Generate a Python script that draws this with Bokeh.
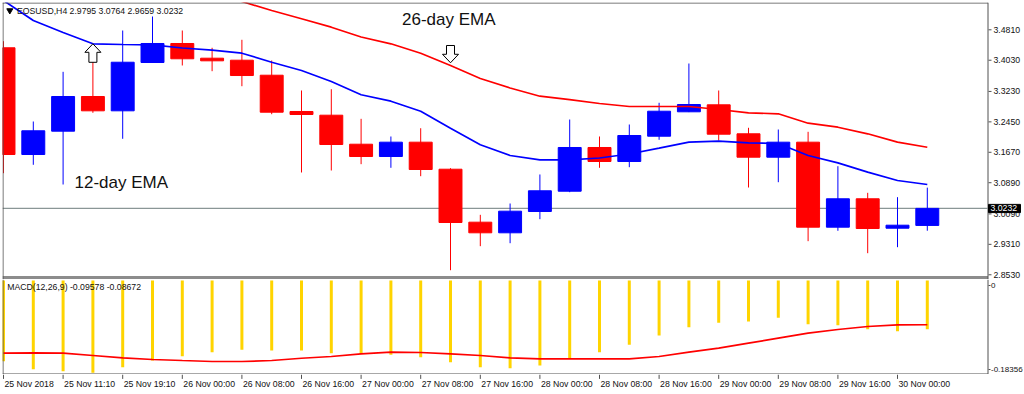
from bokeh.plotting import figure
from bokeh.layouts import column
from bokeh.models import Range1d
from bokeh.core.properties import value
from bokeh.embed import file_html
from bokeh.resources import INLINE

# ---------------- data ----------------
symbol_header = "EOSUSD,H4  2.9795 3.0764 2.9659 3.0232"
macd_header = "MACD(12,26,9) -0.09578 -0.08672"
last_price = 3.0232

opens = [3.4349, 3.1613, 3.2211, 3.3100, 3.2733, 3.3972, 3.4459, 3.4082, 3.4031, 3.3646,
         3.2716, 3.2621, 3.1877, 3.1562, 3.1929, 3.1236, 2.9878, 2.9606, 3.0152, 3.0672,
         3.1793, 3.1434, 3.2082, 3.2708, 3.2887, 3.2144, 3.1544, 3.1929, 2.9750, 3.0478,
         2.9724, 2.9795]
highs = [3.4518, 3.2459, 3.3733, 3.4279, 3.4792, 3.5151, 3.4792, 3.4349, 3.4554, 3.4023,
         3.3254, 3.3287, 3.2528, 3.2075, 3.2287, 3.1262, 3.0067, 3.0357, 3.1101, 3.2510,
         3.2075, 3.2382, 3.2939, 3.3946, 3.3254, 3.2298, 3.2254, 3.2195, 3.1313, 3.0631,
         3.0519, 3.0764]
lows = [3.1134, 3.1349, 3.0844, 3.2682, 3.2016, 3.3965, 3.3895, 3.3749, 3.3364, 3.2646,
        3.1152, 3.1203, 3.1365, 3.1272, 3.1057, 2.8647, 2.9263, 2.9339, 2.9955, 3.0647,
        3.1272, 3.1288, 3.1990, 3.2700, 3.1972, 3.0767, 3.0903, 2.9391, 2.9657, 2.9083,
        2.9237, 2.9659]
closes = [3.1613, 3.2221, 3.3100, 3.2733, 3.3979, 3.4459, 3.4067, 3.4015, 3.3638, 3.2698,
          3.2639, 3.1870, 3.1562, 3.1929, 3.1229, 2.9870, 2.9606, 3.0160, 3.0683, 3.1793,
          3.1434, 3.2100, 3.2723, 3.2895, 3.2134, 3.1544, 3.1929, 2.9750, 3.0478, 2.9716,
          2.9801, 3.0232]

ema12 = [3.5561, 3.5048, 3.4741, 3.4451, 3.4433, 3.4425, 3.4343, 3.4287, 3.4210, 3.3979,
         3.3767, 3.3485, 3.3144, 3.2980, 3.2723, 3.2287, 3.1862, 3.1588, 3.1477, 3.1477,
         3.1524, 3.1626, 3.1775, 3.1929, 3.1954, 3.1913, 3.1895, 3.1588, 3.1400, 3.1160,
         3.0947, 3.0844]
nan = float("nan")
ema26 = [nan, nan, nan, nan, nan, nan, nan,
         3.5766, 3.5535, 3.5305, 3.5092, 3.4877, 3.4625, 3.4451, 3.4210, 3.3895, 3.3562,
         3.3318, 3.3108, 3.3018, 3.2921, 3.2844, 3.2844, 3.2844, 3.2767, 3.2682, 3.2657,
         3.2416, 3.2313, 3.2144, 3.1929, 3.1800]

macd_main = [-0.1582, -0.1739, -0.1778, -0.1810, -0.1700, -0.1569, -0.1484, -0.1406, -0.1359, -0.1373,
             -0.1373, -0.1425, -0.1437, -0.1457, -0.1504, -0.1602, -0.1700, -0.1720, -0.1667, -0.1535,
             -0.1406, -0.1261, -0.1078, -0.0916, -0.0829, -0.0804, -0.0731, -0.0857, -0.0876, -0.0955,
             -0.0994, -0.09578]
macd_signal = [-0.1425, -0.1418, -0.1425, -0.1471, -0.1516, -0.1549, -0.1569, -0.1588, -0.1588, -0.1569,
               -0.1524, -0.1490, -0.1437, -0.1406, -0.1412, -0.1437, -0.1471, -0.1516, -0.1535, -0.1535,
               -0.1535, -0.1535, -0.1490, -0.1406, -0.1327, -0.1229, -0.1131, -0.1033, -0.0961, -0.0902,
               -0.0869, -0.08672]

price_ticks = [3.4810, 3.4030, 3.3230, 3.2450, 3.1670, 3.0890, 3.0090, 2.9310, 2.8530]
price_tick_labels = ["3.4810", "3.4030", "3.3230", "3.2450", "3.1670", "3.0890", "3.0090", "2.9310", "2.8530"]
macd_tick_labels = ["0", "-0.18356"]
time_labels = ["25 Nov 2018", "25 Nov 11:10", "25 Nov 19:10", "26 Nov 00:00", "26 Nov 08:00",
               "26 Nov 16:00", "27 Nov 00:00", "27 Nov 08:00", "27 Nov 16:00", "28 Nov 00:00",
               "28 Nov 08:00", "28 Nov 16:00", "29 Nov 00:00", "29 Nov 08:00", "29 Nov 16:00",
               "30 Nov 00:00"]
time_label_bars = list(range(0, 32, 2))

# ---------------- layout constants ----------------
W = 1024
BL = 2                      # all frames start at x=2 and run to the right edge
FRAME_R = 987               # chart border on the right; scales are drawn to its right
BAR_PX = 29.8               # pixels per bar
X0 = (BL - 3) / BAR_PX
X1 = X0 + (W - BL) / BAR_PX
PX_PER_PRICE = 390.07
MAIN_H = 279                # main figure: y = 0 .. 279
P1 = 3.5510
P0 = P1 - (MAIN_H - 2) / PX_PER_PRICE
MACD_TOP = 279
MACD_H = 95                 # macd figure: y = 279 .. 374
PX_PER_MACD = 510.0
M1 = 1.0 / PX_PER_MACD
M0 = M1 - MACD_H / PX_PER_MACD
STRIP_H = 20

FONT = "Liberation Sans"
GRAY = "#505050"
BLUE = "#0000FF"
RED = "#FF0000"
TXT = "#111111"


def mx(px):
    return X0 + (px - BL) / BAR_PX


def my(py):
    return P1 - (py - 2) / PX_PER_PRICE


def mm(py):
    return M1 - (py - MACD_TOP) / PX_PER_MACD


def base_fig(height, y0, y1, top):
    f = figure(width=W, height=height, x_range=Range1d(X0, X1), y_range=Range1d(y0, y1),
               min_border_left=BL, min_border_right=0, min_border_top=top, min_border_bottom=0,
               x_axis_location=None, y_axis_location=None,
               toolbar_location=None, output_backend="svg")
    f.grid.visible = False
    f.outline_line_color = None
    f.background_fill_color = "white"
    f.border_fill_color = "white"
    return f


idx = list(range(len(opens)))

# ---------------- main price panel ----------------
p = base_fig(MAIN_H, P0, P1, 2)

p.segment(x0=[X0], y0=[last_price], x1=[mx(FRAME_R)], y1=[last_price], line_color="#8a9696", line_width=1.2)

up = [c >= o for o, c in zip(opens, closes)]
cols = [BLUE if u else RED for u in up]
body_top = [max(o, c) for o, c in zip(opens, closes)]
body_bot = [min(o, c) for o, c in zip(opens, closes)]

p.segment(x0=idx, y0=lows, x1=idx, y1=highs, line_color=cols, line_width=1)
p.vbar(x=idx, width=0.77, top=body_top, bottom=body_bot, fill_color=cols, line_color=cols, line_width=1)

p.line(idx, ema12, line_color=BLUE, line_width=1.7)
p.line(idx, ema26, line_color=RED, line_width=1.7)

# hollow arrows at the crossing points
dyu = 1.0 / PX_PER_PRICE
dxu = 1.0 / BAR_PX
up_shape = [(0, 0), (8, 8.5), (4, 8.5), (4, 18.5), (-4, 18.5), (-4, 8.5), (-8, 8.5)]
dn_shape = [(0, 0), (8, -8.5), (4, -8.5), (4, -17.3), (-4, -17.3), (-4, -8.5), (-8, -8.5)]
ua_x, ua_y = 3, ema12[3]
da_x, da_y = 15, ema26[15] + 2.7 * dyu
p.patch([ua_x + a * dxu for a, b in up_shape], [ua_y - b * dyu for a, b in up_shape],
        fill_color="white", line_color="black", line_width=1)
p.patch([da_x + a * dxu for a, b in dn_shape], [da_y - b * dyu for a, b in dn_shape],
        fill_color="white", line_color="black", line_width=1)

p.text(x=[mx(401.5)], y=[my(19.3)], text=["26-day EMA"], text_font=value(FONT),
       text_font_size="17px", text_color=TXT, text_baseline="alphabetic", text_align="left")
p.text(x=[mx(74)], y=[my(182)], text=["12-day EMA"], text_font=value(FONT),
       text_font_size="17px", text_color=TXT, text_baseline="alphabetic", text_align="left")

p.scatter(x=[mx(9.3)], y=[my(10)], marker="inverted_triangle", size=6,
          fill_color="black", line_color="black")
p.text(x=[mx(16.5)], y=[my(10)], text=[symbol_header], text_font=value(FONT),
       text_font_size="8.7px", text_color=TXT, text_baseline="middle", text_align="left")

# separator band between the price panel and the MACD panel
p.quad(left=[X0], right=[mx(FRAME_R + 0.5)], top=[my(275.6)], bottom=[my(279)],
       fill_color="#8c8c8c", line_color=None)

# frame borders
p.segment(x0=[mx(2), mx(2.5), mx(FRAME_R + 0.5)], y0=[my(2.5), my(2), my(2)],
          x1=[mx(FRAME_R + 0.5), mx(2.5), mx(FRAME_R + 0.5)], y1=[my(2.5), my(279), my(279)],
          line_color=GRAY, line_width=1)

# price scale on the right
n = len(price_ticks)
p.segment(x0=[mx(FRAME_R + 1)] * n, y0=price_ticks, x1=[mx(FRAME_R + 4)] * n, y1=price_ticks,
          line_color=GRAY, line_width=1)
p.text(x=[mx(FRAME_R + 6)] * n, y=price_ticks, text=price_tick_labels, text_font=value(FONT),
       text_font_size="8.7px", text_color=TXT, text_baseline="middle", text_align="left")

# last-price box
p.quad(left=[mx(FRAME_R + 1)], right=[mx(FRAME_R + 33)], top=[last_price + 4 * dyu],
       bottom=[last_price - 4.2 * dyu], fill_color="black", line_color="black")
p.text(x=[mx(FRAME_R + 3)], y=[last_price], text=["%.4f" % last_price], text_font=value(FONT),
       text_font_size="8.7px", text_color="white", text_baseline="middle", text_align="left")

# ---------------- MACD panel ----------------
m = base_fig(MACD_H, M0, M1, 0)

m.segment(x0=idx, y0=[0] * len(idx), x1=idx, y1=macd_main, line_color="#FFD400", line_width=3)
m.line(idx, macd_signal, line_color=RED, line_width=1.7)
m.text(x=[mx(6.7)], y=[mm(286.7)], text=[macd_header], text_font=value(FONT),
       text_font_size="8.7px", text_color=TXT, text_baseline="middle", text_align="left")

# borders of the MACD panel
m.segment(x0=[mx(2.5), mx(FRAME_R + 0.5), mx(2)], y0=[mm(279), mm(279), mm(373.5)],
          x1=[mx(2.5), mx(FRAME_R + 0.5), mx(FRAME_R + 0.5)], y1=[mm(374), mm(374), mm(373.5)],
          line_color=GRAY, line_width=1)

# MACD scale on the right
macd_tick_y = [mm(285), mm(369)]
m.segment(x0=[mx(FRAME_R + 1)] * 2, y0=macd_tick_y, x1=[mx(FRAME_R + 3)] * 2, y1=macd_tick_y,
          line_color=GRAY, line_width=1)
m.text(x=[mx(FRAME_R + 3.5)] * 2, y=macd_tick_y, text=macd_tick_labels, text_font=value(FONT),
       text_font_size="8px", text_color=TXT, text_baseline="middle", text_align="left")

# ---------------- time label strip ----------------
s = base_fig(STRIP_H, 0, 1, 0)
s.segment(x0=time_label_bars, y0=[1.0] * len(time_label_bars), x1=time_label_bars,
          y1=[0.78] * len(time_label_bars), line_color=GRAY, line_width=1)
s.text(x=time_label_bars, y=[0.55] * len(time_label_bars), text=time_labels, x_offset=1,
       text_font=value(FONT), text_font_size="8.7px", text_color=TXT,
       text_baseline="middle", text_align="left")

layout = column(p, m, s, spacing=0)
open("out.html", "w").write(file_html(layout, INLINE))
